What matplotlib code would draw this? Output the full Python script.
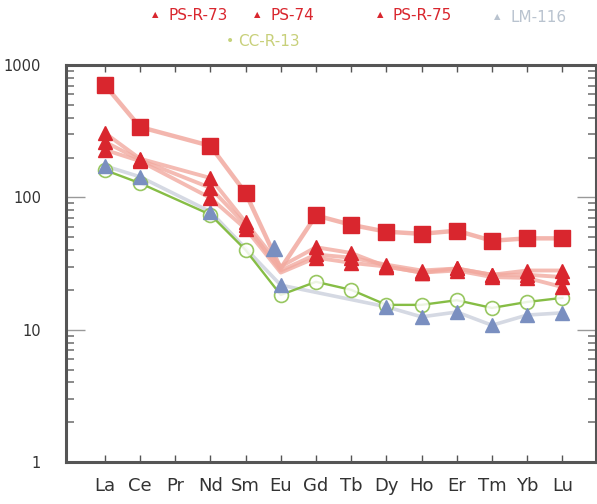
import numpy as np
import matplotlib
matplotlib.use("Agg")
import matplotlib.pyplot as plt

# Chondrite-normalised REE patterns
elements = ["La", "Ce", "Pr", "Nd", "Sm", "Eu", "Gd", "Tb", "Dy", "Ho", "Er", "Tm", "Yb", "Lu"]
nan = np.nan

# square-symbol sample
ps_sq = [708, 340, nan, 245, 108, 29, 73, 62, 55, 53, 56, 47, 49, 49]
# triangle-symbol samples
ps_r_73 = [307, 196, nan, 140, 65, 30, 42, 38, 30, 27, 29, 26, 28, 28]
ps_74 = [263, 192, nan, 118, 62, 28, 37, 35, 31, 28, 29, 26, 26, 25]
ps_r_75 = [229, 188, nan, 99, 58, 27, 35, 32, 30, 27, 28, 25, 24.6, 21]
# elements plotted without a symbol on the PS lines
no_symbol = ["Eu"]

lm_116 = [173, 143, nan, 78, nan, 21.7, nan, nan, 14.9, 12.5, 13.6, 10.8, 12.9, 13.4]
lm_116_eu_extra = 41.5
cc_r_13 = [161, 128, nan, 74, 40, 18.3, 23, 20, 15.4, 15.4, 16.7, 14.6, 16.2, 17.4]

yticks = [1, 10, 100, 1000]
ytick_labels = ["1", "10", "100", "1000"]

RED = "#d9262e"
PINK = "#f2aaa0"
BLUE = "#7a8fc0"
BLUE_LINE = "#d5d9e3"
GREEN = "#86bd45"
AXIS = "#555555"

fig = plt.figure(figsize=(5.97, 5.04), dpi=100)
ax = fig.add_axes([0.1106, 0.0833, 0.8874, 0.7877])

x = np.arange(len(elements))


def connected(vals):
    v = np.asarray(vals, dtype=float)
    m = ~np.isnan(v)
    return x[m], v[m]


def symbols(vals, skip):
    v = np.asarray(vals, dtype=float).copy()
    for e in skip:
        v[elements.index(e)] = nan
    return connected(v)


# LM-116 faint line
xs, ys = connected(lm_116)
ax.plot(xs, ys, color=BLUE_LINE, lw=2.6, zorder=1, solid_capstyle="round")

# PS lines (pink)
for vals in (ps_r_75, ps_74, ps_r_73):
    xs, ys = connected(vals)
    ax.plot(xs, ys, color=PINK, lw=2.8, alpha=0.8, zorder=2, solid_capstyle="round")
xs, ys = connected(ps_sq)
ax.plot(xs, ys, color=PINK, lw=3.2, alpha=0.85, zorder=2, solid_capstyle="round")

# CC-R-13 line and open circles
xs, ys = connected(cc_r_13)
ax.plot(xs, ys, color=GREEN, lw=1.7, zorder=3)
ax.plot(xs, ys, ls="none", marker="o", ms=10, mfc="white", mec=GREEN,
        mew=1.2, alpha=0.85, zorder=4)

# LM-116 symbols
xs, ys = connected(lm_116)
ax.plot(xs, ys, ls="none", marker="^", ms=10, color=BLUE, zorder=5)
ax.plot([elements.index("Eu") - 0.2], [lm_116_eu_extra], ls="none", marker="^",
        ms=11, color=BLUE, zorder=5)

# PS symbols
for vals in (ps_r_75, ps_74, ps_r_73):
    xs, ys = symbols(vals, no_symbol)
    ax.plot(xs, ys, ls="none", marker="^", ms=10, color=RED, zorder=6)
xs, ys = symbols(ps_sq, no_symbol)
ax.plot(xs, ys, ls="none", marker="s", ms=11, color=RED, zorder=6)

ax.set_yscale("log")
ax.set_ylim(1, 1000)
ax.set_xlim(-1.1, 13.95)
ax.set_xticks(x)
ax.set_xticklabels(elements, fontsize=13, color="#333333")
ax.set_yticks(yticks)
ax.set_yticklabels(ytick_labels, fontsize=10.5, color="#333333")
ax.tick_params(axis="x", which="major", direction="in", length=5, width=1,
               color=AXIS, top=True, pad=11)
ax.tick_params(axis="y", which="major", direction="in", length=14, width=1,
               color="#999999", right=True, pad=18)
ax.tick_params(axis="y", which="minor", direction="in", length=6, width=1.2,
               color="#777777", right=True)
for s in ax.spines.values():
    s.set_color(AXIS)
    s.set_linewidth(2.2)

# Legend
leg_font = ["Liberation Sans Narrow", "DejaVu Sans"]
legend_items = [
    ("PS-R-73", RED, 155, 15),
    ("PS-74", RED, 257, 15),
    ("PS-R-75", RED, 380, 15),
    ("LM-116", "#b9c3cf", 497, 17),
]
W, H = 597.0, 504.0
for label, col, px, py in legend_items:
    fig.text(px / W, 1 - py / H, "▲", color=col, fontsize=6,
             ha="center", va="center", family="DejaVu Sans")
    fig.text((px + 13) / W, 1 - py / H, label, color=col, fontsize=11,
             ha="left", va="center", family=leg_font)
fig.text(230 / W, 1 - 41 / H, "•", color="#c5d27a", fontsize=10,
         ha="center", va="center", family="DejaVu Sans")
fig.text(238 / W, 1 - 41 / H, "CC-R-13", color="#c8d07a", fontsize=11,
         ha="left", va="center", family=leg_font)

fig.savefig("out.png", dpi=100)
